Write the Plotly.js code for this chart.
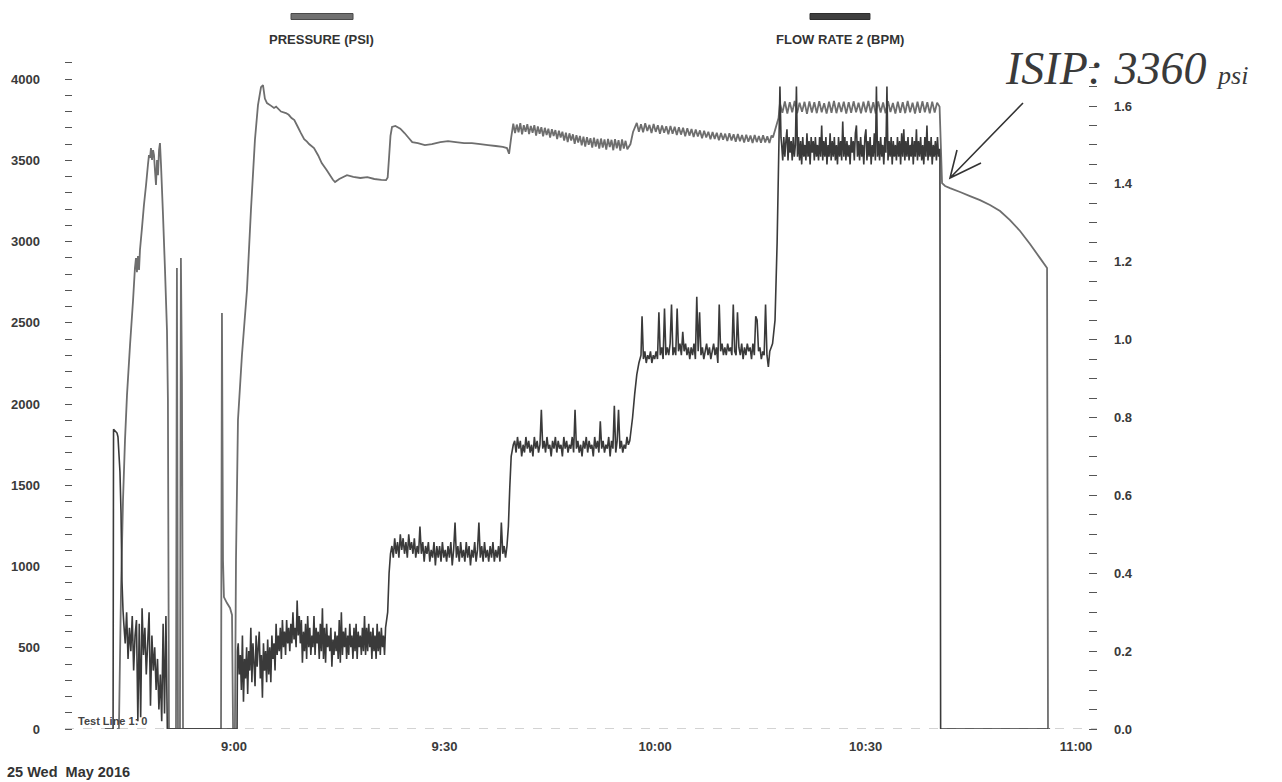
<!DOCTYPE html>
<html><head><meta charset="utf-8">
<script src="https://cdn.plot.ly/plotly-3.0.1.min.js"></script>
<style>html,body{margin:0;padding:0;background:#fff}#chart{width:1282px;height:782px}</style>
</head><body><div id="chart"></div>
<script>
// Times are minutes after 08:00 on 25 May 2016.
// Explicit [time, psi] readings
const pressureA = [[43.3,0],[43.6,0],[43.75,425],[43.9,855],[44.18,1409],[44.47,1778],[44.75,2055],[45.18,2363],[45.61,2640],[45.89,2837],[46.03,2898],[46.17,2812],[46.32,2911],[46.46,2825],[46.6,2948],[46.89,3083],[47.17,3225],[47.46,3348],[47.74,3471],[47.89,3532],[48.03,3514],[48.17,3575],[48.31,3502],[48.46,3563],[48.6,3532],[48.74,3440],[48.88,3348],[49.03,3502],[49.17,3409],[49.31,3563],[49.45,3606],[49.6,3471],[49.88,3163],[50.17,2825],[50.45,2455],[50.59,2025],[50.74,0],[51.73,0],[51.87,2837],[52.02,0],[52.3,0],[52.44,2898],[52.59,2148],[52.73,0],[58.15,0],[58.29,2560],[58.43,1040],[58.57,812],[59.0,775],[59.43,745],[59.71,702],[59.86,0],[60.14,0],[60.29,1040],[60.57,1902],[61.14,2302],[61.85,2702],[62.42,3194],[62.99,3625],[63.42,3840],[63.85,3950],[64.13,3963],[64.4,3880],[64.7,3852],[65.3,3835],[65.7,3822],[66.0,3830],[66.7,3800],[67.4,3791],[67.8,3780],[68.2,3760],[68.6,3748],[69.1,3705],[69.5,3670],[70.0,3630],[70.4,3615],[70.7,3600],[71.4,3575],[72.0,3530],[72.5,3483],[73.2,3440],[73.8,3400],[74.1,3380],[74.4,3366],[75.0,3385],[76.1,3409],[77.0,3398],[78.0,3391],[79.0,3396],[80.0,3385],[81.0,3380],[81.66,3378],[81.9,3395],[82.1,3520],[82.3,3650],[82.52,3705],[83.0,3712],[83.7,3695],[84.3,3668],[84.9,3637],[85.4,3612],[86.2,3606],[87.2,3594],[88.2,3600],[89.4,3612],[90.5,3618],[91.6,3612],[92.8,3606],[93.9,3606],[95.1,3600],[96.2,3594],[97.3,3588],[98.3,3582],[98.9,3575],[99.2,3540],[99.5,3640]];
// Regularly sampled noisy stretches (start minute, sample step, psi readings)
const pressureB_start = 99.8, pressureB_step = 0.25;
const pressureB = [3725,3668,3720,3672,3728,3660,3716,3675,3722,3662, 3712,3670,3716,3652,3708,3664,3704,3648,3700,3656, 3694,3640,3692,3650,3686,3630,3682,3640,3676,3622, 3670,3612,3666,3622,3660,3602,3655,3610,3650,3592, 3646,3585,3642,3596,3636,3578,3640,3584,3632,3572, 3634,3578,3628,3566,3632,3582,3626,3562,3630,3574, 3624,3560,3628,3572,3620,3568];
const pressureC0 = [[116.5,3600],[116.86,3674]];
const pressureC_start = 117.4, pressureC_step = 0.3;
const pressureC = [3730,3676,3722,3672,3728,3680,3718,3668,3724,3675, 3716,3664,3714,3670,3710,3660,3712,3664,3706,3656, 3704,3658,3700,3648,3698,3652,3692,3644,3690,3646, 3684,3636,3682,3640,3676,3630,3674,3632,3670,3624, 3668,3626,3664,3618,3666,3622,3660,3614,3662,3618, 3656,3610,3658,3614,3652,3606,3656,3612,3650,3608, 3654,3610,3648,3606,3652];
const pressureD0 = [[136.8,3640],[137.2,3700],[137.6,3760]];
const pressureD_start = 137.8, pressureD_step = 0.35;
const pressureD = [3850,3792,3862,3788,3858,3795,3865,3790,3855,3798,3860,3786,3862,3794,3857,3790,3864,3796,3852,3788,3860,3793,3866,3790,3856,3797,3861,3787,3858,3792,3863,3795,3854,3789,3860,3796,3865,3791,3857,3788,3862,3794,3856,3790,3864,3797,3853,3787,3861,3793,3858,3790,3866,3795,3855,3788,3860,3792,3863,3796,3857,3789,3861,3794,3855,3830];
const pressureE = [[160.9,3360],[161.33,3342],[162.04,3329],[163.47,3305],[164.89,3280],[166.32,3255],[167.74,3225],[169.17,3188],[170.59,3132],[172.02,3065],[173.44,2985],[174.87,2898],[175.87,2837],[176.0,0],[176.3,0]];

// Flow rate (BPM)
const flowA = [[41.6,0],[42.76,0],[42.83,0.77],[43.33,0.76],[43.47,0.75],[43.75,0.66],[43.9,0.555],[44.04,0.38],[44.18,0.305]];
const flowB_start = 44.3, flowB_step = 0.2;
const flowB = [0.27,0.22,0.30,0.18,0.26,0.20,0.29,0.15,0.24,0.28,0.02,0.27,0.03,0.31,0.19,0.26,0.14,0.22,0.30,0.06,0.24,0.15,0.21,0.10,0.18,0.05,0.14,0.02,0.27,0.04,0.29,0.0];
const flowC0 = [[50.7,0],[60.43,0],[60.5,0.20]];
const flowC_start = 60.6, flowC_step = 0.15;
const flowC = [0.22,0.14,0.19,0.10,0.24,0.07,0.18,0.13,0.21,0.09, 0.20,0.15,0.26,0.12,0.22,0.17,0.11,0.24,0.16,0.21, 0.25,0.13,0.19,0.08,0.22,0.15,0.20,0.12,0.23,0.14, 0.21,0.12,0.24,0.18,0.22,0.15,0.27,0.19,0.24,0.20, 0.26,0.18,0.28,0.21,0.25,0.19,0.28,0.22,0.26,0.20, 0.27,0.22,0.30,0.23,0.26,0.21,0.33,0.24,0.29,0.22, 0.28,0.17,0.25,0.20,0.27,0.18,0.29,0.21,0.26,0.19, 0.24,0.21,0.29,0.19,0.26,0.22,0.25,0.18,0.27,0.20, 0.31,0.18,0.26,0.17,0.27,0.21,0.24,0.20,0.26,0.16, 0.23,0.19,0.25,0.20,0.24,0.18,0.28,0.17,0.30,0.19, 0.25,0.21,0.26,0.18,0.24,0.19,0.27,0.21,0.24,0.18, 0.26,0.20,0.27,0.18,0.25,0.21,0.24,0.19,0.26,0.20, 0.29,0.19,0.26,0.20,0.27,0.21,0.25,0.18,0.26,0.20, 0.24,0.18,0.27,0.20,0.25,0.19,0.26,0.21,0.24,0.19, 0.26];
const flowD0 = [[81.9,0.30],[82.1,0.40],[82.3,0.45]];
const flowD_start = 82.5, flowD_step = 0.2;
const flowD = [0.47,0.44,0.49,0.45,0.48,0.44,0.50,0.46,0.49,0.45, 0.48,0.44,0.50,0.46,0.48,0.45,0.49,0.44,0.47,0.45, 0.52,0.45,0.48,0.43,0.47,0.45,0.48,0.43,0.46,0.44, 0.48,0.42,0.47,0.44,0.47,0.43,0.48,0.44,0.46,0.43, 0.47,0.44,0.48,0.42,0.46,0.53,0.44,0.47,0.43,0.48, 0.44,0.46,0.43,0.48,0.44,0.47,0.42,0.46,0.44,0.48, 0.43,0.46,0.53,0.44,0.47,0.43,0.48,0.44,0.46,0.43, 0.47,0.44,0.48,0.43,0.46,0.44,0.47,0.43,0.53,0.45, 0.47,0.44,0.47];
const flowE0 = [[99.1,0.52],[99.3,0.62],[99.5,0.70],[99.8,0.73]];
const flowE_start = 100.0, flowE_step = 0.2;
const flowE = [0.74,0.71,0.75,0.72,0.74,0.70,0.73,0.71,0.75,0.72, 0.74,0.71,0.73,0.70,0.75,0.72,0.74,0.71,0.73,0.82, 0.72,0.74,0.71,0.75,0.72,0.73,0.70,0.74,0.72,0.75, 0.71,0.74,0.72,0.73,0.70,0.75,0.72,0.74,0.71,0.73, 0.72,0.75,0.71,0.82,0.72,0.74,0.71,0.73,0.70,0.74, 0.72,0.75,0.71,0.74,0.72,0.73,0.70,0.75,0.72,0.74, 0.71,0.79,0.72,0.74,0.71,0.73,0.72,0.75,0.70,0.74, 0.72,0.83,0.71,0.74,0.82,0.72,0.74,0.71,0.73,0.72, 0.75,0.73];
const flowF0 = [[116.4,0.74],[116.8,0.80],[117.1,0.86],[117.4,0.91],[117.7,0.94],[118.0,0.96]];
const flowF_start = 118.15, flowF_step = 0.2;
const flowF = [1.06,0.95,0.97,0.94,0.96,0.95,0.97,0.94,0.96,0.95, 0.97,0.95,1.07,0.96,0.98,0.95,1.08,0.96,0.98,0.96, 0.99,1.09,0.96,0.98,0.96,1.08,0.97,0.99,0.96,1.02, 0.97,0.99,0.96,0.98,0.95,0.98,0.96,0.99,0.95,1.11, 0.97,1.07,0.96,0.98,0.95,0.97,0.99,0.96,0.98,0.95, 0.97,0.99,0.96,0.98,0.94,1.09,0.97,0.99,0.96,0.98, 0.96,0.99,0.97,0.98,0.96,1.09,0.97,0.96,1.07,0.98, 0.96,0.99,0.95,0.98,0.96,0.99,0.97,0.98,0.95,0.99, 0.96,1.06,1.05,0.97,0.98,0.95,0.97,0.96,1.09,0.96, 0.93,0.97,0.98,0.99];
const flowG0 = [[137.1,1.05],[137.4,1.25],[137.65,1.50],[137.8,1.65],[137.95,1.52]];
const flowG_start = 138.05, flowG_step = 0.15;
const flowG = [1.50,1.46,1.52,1.47,1.51,1.54,1.46,1.52,1.48,1.51, 1.46,1.52,1.47,1.50,1.65,1.47,1.52,1.46,1.51,1.45, 1.52,1.47,1.50,1.46,1.53,1.47,1.51,1.45,1.52,1.48, 1.51,1.46,1.52,1.47,1.50,1.46,1.52,1.47,1.55,1.46, 1.51,1.47,1.52,1.45,1.50,1.47,1.53,1.46,1.51,1.47, 1.52,1.46,1.50,1.45,1.52,1.47,1.51,1.46,1.56,1.47, 1.52,1.46,1.51,1.47,1.50,1.45,1.52,1.48,1.51,1.46, 1.53,1.55,1.47,1.51,1.46,1.52,1.47,1.50,1.45,1.52, 1.54,1.46,1.51,1.47,1.52,1.45,1.50,1.47,1.53,1.46, 1.65,1.47,1.51,1.46,1.52,1.47,1.50,1.45,1.52,1.48, 1.65,1.46,1.51,1.47,1.52,1.45,1.51,1.47,1.50,1.46, 1.52,1.47,1.51,1.45,1.53,1.47,1.54,1.46,1.51,1.47, 1.52,1.46,1.50,1.47,1.52,1.45,1.51,1.47,1.54,1.46, 1.51,1.47,1.52,1.46,1.50,1.45,1.52,1.47,1.55,1.46, 1.51,1.47,1.52,1.45,1.50,1.47,1.51,1.46,1.52,1.47, 1.49];
const flowH = [[160.6,1.47],[160.7,0],[176.0,0]];

// Axis tick labels
const xTickMinutes = [60, 90, 120, 150, 180];
const xTickText = ['9:00','9:30','10:00','10:30','11:00'];
const yLeftTicks = [0,500,1000,1500,2000,2500,3000,3500,4000];
const yRightTicks = [0,0.2,0.4,0.6,0.8,1.0,1.2,1.4,1.6];
const yRightText = ['0.0','0.2','0.4','0.6','0.8','1.0','1.2','1.4','1.6'];

function pad(n){return (n<10?'0':'')+n;}
function toDate(m){
  const s = Math.round(m*60);
  const h = 8 + Math.floor(s/3600), mi = Math.floor((s%3600)/60), se = s%60;
  return '2016-05-25 ' + pad(h) + ':' + pad(mi) + ':' + pad(se);
}
function build(parts){
  const x=[], y=[];
  parts.forEach(p=>{
    if (Array.isArray(p)) { p.forEach(([t,v])=>{x.push(toDate(t)); y.push(v);}); }
    else { p.vals.forEach((v,i)=>{x.push(toDate(p.start + i*p.step)); y.push(v);}); }
  });
  return {x,y};
}
const P = build([pressureA,{start:pressureB_start,step:pressureB_step,vals:pressureB},pressureC0,
  {start:pressureC_start,step:pressureC_step,vals:pressureC},pressureD0,
  {start:pressureD_start,step:pressureD_step,vals:pressureD},pressureE]);
const F = build([flowA,{start:flowB_start,step:flowB_step,vals:flowB},flowC0,
  {start:flowC_start,step:flowC_step,vals:flowC},flowD0,{start:flowD_start,step:flowD_step,vals:flowD},
  flowE0,{start:flowE_start,step:flowE_step,vals:flowE},flowF0,{start:flowF_start,step:flowF_step,vals:flowF},
  flowG0,{start:flowG_start,step:flowG_step,vals:flowG},flowH]);

const tickFont = {family:'Liberation Sans, Arial, sans-serif', size:13, color:'#3a3a3a', weight:'bold'};

const data = [
  {type:'scatter', mode:'lines', name:'PRESSURE (PSI)', x:P.x, y:P.y, yaxis:'y',
   line:{color:'#6e6e6e', width:1.8, simplify:false}, hoverinfo:'skip'},
  {type:'scatter', mode:'lines', name:'FLOW RATE 2 (BPM)', x:F.x, y:F.y, yaxis:'y2',
   line:{color:'#3a3a3a', width:1.6, simplify:false}, hoverinfo:'skip'}
];

const layout = {
  width:1282, height:782,
  margin:{l:65, r:185, t:62, b:53},
  paper_bgcolor:'#ffffff', plot_bgcolor:'#ffffff',
  showlegend:false,
  xaxis:{type:'date', range:[toDate(35.91), toDate(182.99)],
    tickmode:'array', tickvals:xTickMinutes.map(toDate), ticktext:xTickText,
    ticks:'', showgrid:false, zeroline:false, showline:false,
    tickfont:tickFont, ticklabelstandoff:8},
  yaxis:{range:[0,4105], tickmode:'array', tickvals:yLeftTicks, ticktext:yLeftTicks.map(String),
    ticks:'', showgrid:false, zeroline:false, showline:false, tickfont:tickFont, ticklabelstandoff:24,
    minor:{tickmode:'linear', tick0:0, dtick:100, ticks:'inside', ticklen:7, tickcolor:'#555', tickwidth:1, showgrid:false}},
  yaxis2:{overlaying:'y', side:'right', range:[0,1.713], tickmode:'array', tickvals:yRightTicks, ticktext:yRightText,
    ticks:'', showgrid:false, zeroline:false, showline:false, tickfont:tickFont, ticklabelstandoff:16,
    minor:{tickmode:'linear', tick0:0, dtick:0.05, ticks:'inside', ticklen:8, tickcolor:'#555', tickwidth:1, showgrid:false}},
  shapes:[
    {type:'line', xref:'paper', yref:'y', x0:0, x1:1, y0:0, y1:0, layer:'below',
     line:{color:'#a8a8a8', width:1.2, dash:'dash'}},
    {type:'rect', xref:'paper', yref:'paper', x0:0.2190, x1:0.2791, y0:1.0637, y1:1.0727,
     fillcolor:'#707070', line:{color:'#4a4a4a', width:1}},
    {type:'rect', xref:'paper', yref:'paper', x0:0.7219, x1:0.7800, y0:1.0637, y1:1.0727,
     fillcolor:'#3f3f3f', line:{color:'#2e2e2e', width:1}},
    {type:'path', xref:'paper', yref:'paper',
     path:'M 0.92829,0.93853 L 0.85756,0.82609 M 0.86434,0.86807 L 0.85756,0.82609 L 0.88760,0.84858',
     line:{color:'#333333', width:1.6}}
  ],
  annotations:[
    {xref:'paper', yref:'paper', x:0.249, y:1.033, xanchor:'center', yanchor:'middle', showarrow:false,
     text:'PRESSURE (PSI)', font:{family:'Liberation Sans, Arial, sans-serif', size:13, color:'#333', weight:'bold'}},
    {xref:'paper', yref:'paper', x:0.751, y:1.033, xanchor:'center', yanchor:'middle', showarrow:false,
     text:'FLOW RATE 2 (BPM)', font:{family:'Liberation Sans, Arial, sans-serif', size:13, color:'#333', weight:'bold'}},
    {xref:'paper', yref:'paper', x:0.0107, y:0.012, xanchor:'left', yanchor:'middle', showarrow:false,
     text:'Test Line 1: 0', font:{family:'Liberation Sans, Arial, sans-serif', size:11, color:'#444', weight:'bold'}},
    {xref:'paper', yref:'paper', x:-0.058, y:-0.0645, xanchor:'left', yanchor:'middle', showarrow:false,
     text:'25 Wed&nbsp; May 2016', font:{family:'Liberation Sans, Arial, sans-serif', size:14.5, color:'#333', weight:'bold'}},
    {xref:'paper', yref:'paper', x:0.909, y:0.99, xanchor:'left', yanchor:'middle', showarrow:false,
     text:'ISIP: 3360 <span style="font-size:26px">psi</span>',
     font:{family:'Liberation Serif, DejaVu Serif, serif', size:46, color:'#3a3a3a', style:'italic'}}
  ]
};

Plotly.newPlot('chart', data, layout, {staticPlot:true, displayModeBar:false});
</script>
</body></html>
